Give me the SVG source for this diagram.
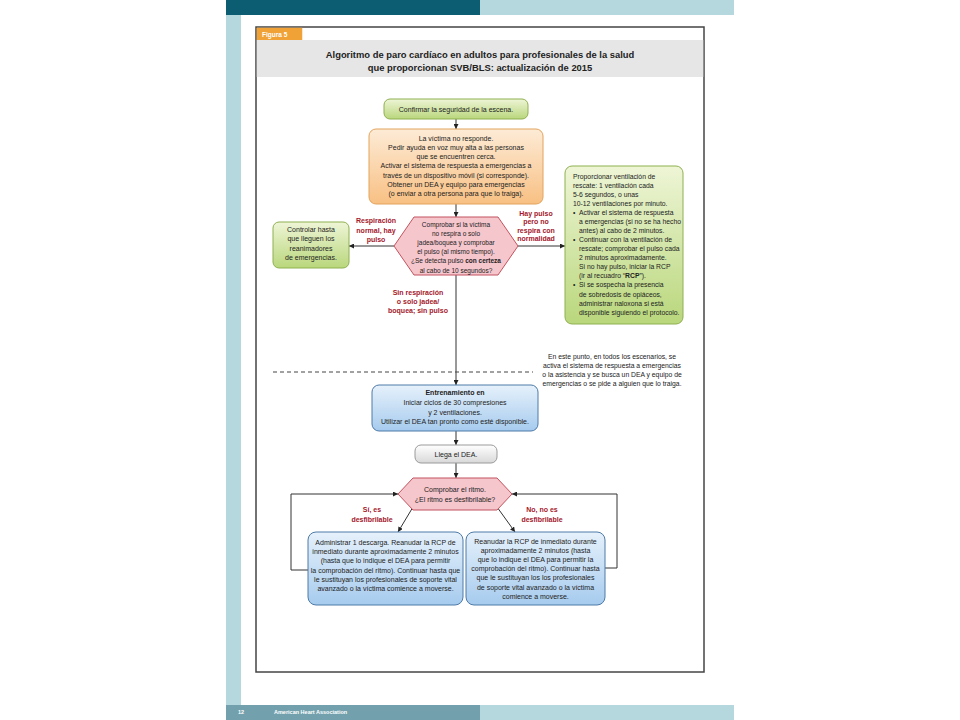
<svg xmlns="http://www.w3.org/2000/svg" width="960" height="720" viewBox="0 0 960 720">
<defs>
<linearGradient id="gGreen" x1="0" y1="0" x2="0" y2="1"><stop offset="0" stop-color="#eef5d6"/><stop offset="1" stop-color="#b9d77c"/></linearGradient>
<linearGradient id="gOrange" x1="0" y1="0" x2="0" y2="1"><stop offset="0" stop-color="#fdebd6"/><stop offset="1" stop-color="#f8c083"/></linearGradient>
<linearGradient id="gBlue" x1="0" y1="0" x2="0" y2="1"><stop offset="0" stop-color="#e6f1fb"/><stop offset="1" stop-color="#a6cbee"/></linearGradient>
<linearGradient id="gGray" x1="0" y1="0" x2="0" y2="1"><stop offset="0" stop-color="#ffffff"/><stop offset="1" stop-color="#d8d8d8"/></linearGradient>
<marker id="arr" viewBox="0 0 10 10" refX="10" refY="5" markerWidth="5" markerHeight="5" orient="auto" markerUnits="userSpaceOnUse"><path d="M0,0 L10,5 L0,10 z" fill="#222"/></marker>
</defs>
<style>
text{font-family:"Liberation Sans",Arial,sans-serif;fill:#222}
.t{font-size:7px;text-anchor:middle}
.s{font-size:6.8px}
.h{font-size:6.5px;text-anchor:middle}
.r{font-size:7px;font-weight:bold;fill:#a3182c;text-anchor:middle}
.green{fill:url(#gGreen);stroke:#8fb050;stroke-width:1}
.orange{fill:url(#gOrange);stroke:#e3a45c;stroke-width:1}
.blue{fill:url(#gBlue);stroke:#4d7aa8;stroke-width:1}
.gray{fill:url(#gGray);stroke:#9a9a9a;stroke-width:1}
.hex{fill:#f6c6cd;stroke:#c2535e;stroke-width:1}
.c{fill:none;stroke:#333;stroke-width:1}
</style>
<rect x="0" y="0" width="960" height="720" fill="#ffffff"/>
<g id="page">
<rect x="226" y="0" width="254" height="15" fill="#0d5d72"/>
<rect x="480" y="0" width="254" height="15" fill="#b4d8de"/>
<rect x="226" y="15" width="15" height="690" fill="#b4d8de"/>
<rect x="226" y="705" width="254" height="15" fill="#72a1ad"/>
<rect x="480" y="705" width="254" height="15" fill="#b4d8de"/>
<text x="238" y="714" style="font-size:5.5px;font-weight:bold;fill:#ffffff">12</text>
<text x="274" y="714" style="font-size:5.5px;font-weight:bold;fill:#ffffff">American Heart Association</text>
<rect x="256" y="27" width="448" height="645" fill="#ffffff" stroke="#444" stroke-width="1.5"/>
<rect x="256.75" y="40" width="446.5" height="37" fill="#e6e6e6"/>
<rect x="256.75" y="27.75" width="45.5" height="12.25" fill="#f0a236"/>
<text x="262" y="36.5" style="font-size:6.5px;font-weight:bold;fill:#ffffff">Figura 5</text>
<text x="480" y="57.5" style="font-size:9.4px;font-weight:bold;text-anchor:middle">Algoritmo de paro cardíaco en adultos para profesionales de la salud</text>
<text x="480" y="70.5" style="font-size:9.4px;font-weight:bold;text-anchor:middle">que proporcionan SVB/BLS: actualización de 2015</text>
</g>
<g id="connectors">
<line class="c" x1="456" y1="119" x2="456" y2="129" marker-end="url(#arr)"/>
<line class="c" x1="456" y1="204" x2="456" y2="217" marker-end="url(#arr)"/>
<line class="c" x1="394" y1="246" x2="349" y2="246" marker-end="url(#arr)"/>
<line class="c" x1="518" y1="246" x2="565" y2="246" marker-end="url(#arr)"/>
<line class="c" x1="456" y1="275" x2="456" y2="385" marker-end="url(#arr)"/>
<line x1="273" y1="372" x2="533" y2="372" stroke="#444" stroke-width="1" stroke-dasharray="4,3"/>
<line class="c" x1="456" y1="431" x2="456" y2="445" marker-end="url(#arr)"/>
<line class="c" x1="456" y1="463" x2="456" y2="478" marker-end="url(#arr)"/>
<line class="c" x1="413" y1="507" x2="398" y2="532" marker-end="url(#arr)"/>
<line class="c" x1="497" y1="507" x2="515" y2="532" marker-end="url(#arr)"/>
<polyline class="c" points="308,570 291,570 291,494 398,494" marker-end="url(#arr)"/>
<polyline class="c" points="605,568 617,568 617,494 512,494" marker-end="url(#arr)"/>
</g>
<g id="n-confirmar">
<rect class="green" x="384" y="99" width="144" height="20" rx="6"/>
<text class="t" x="456" y="111.5">Confirmar la seguridad de la escena.</text>
</g>
<g id="n-victima">
<rect class="orange" x="369" y="129" width="174" height="75" rx="7"/>
<text class="t" x="456" y="140.5">La víctima no responde.</text>
<text class="t" x="456" y="149.8">Pedir ayuda en voz muy alta a las personas</text>
<text class="t" x="456" y="159.1">que se encuentren cerca.</text>
<text class="t" x="456" y="168.4">Activar el sistema de respuesta a emergencias a</text>
<text class="t" x="456" y="177.7">través de un dispositivo móvil (si corresponde).</text>
<text class="t" x="456" y="187">Obtener un DEA y equipo para emergencias</text>
<text class="t" x="456" y="196.3">(o enviar a otra persona para que lo traiga).</text>
</g>
<g id="n-comprobar">
<polygon class="hex" points="394,246 414,217 498,217 518,246 498,275 414,275"/>
<text class="h" x="456" y="226.5">Comprobar si la víctima</text>
<text class="h" x="456" y="235.7">no respira o solo</text>
<text class="h" x="456" y="244.9">jadea/boquea y comprobar</text>
<text class="h" x="456" y="254.1">el pulso (al mismo tiempo).</text>
<text class="h" x="456" y="263.3">¿Se detecta pulso <tspan font-weight="bold">con certeza</tspan></text>
<text class="h" x="456" y="272.5">al cabo de 10 segundos?</text>
</g>
<g id="n-controlar">
<rect class="green" x="273" y="222" width="76" height="46" rx="6"/>
<text class="t" x="311" y="231.5">Controlar hasta</text>
<text class="t" x="311" y="241">que lleguen los</text>
<text class="t" x="311" y="250.5">reanimadores</text>
<text class="t" x="311" y="260">de emergencias.</text>
</g>
<g id="n-ventilacion">
<rect class="green" x="565" y="166" width="118" height="158" rx="7"/>
<text class="s" x="573" y="178.5">Proporcionar ventilación de</text>
<text class="s" x="573" y="187.6">rescate: 1 ventilación cada</text>
<text class="s" x="573" y="196.6">5-6 segundos, o unas</text>
<text class="s" x="573" y="205.7">10-12 ventilaciones por minuto.</text>
<text class="s" x="573" y="214.8">•</text>
<text class="s" x="579" y="214.8">Activar el sistema de respuesta</text>
<text class="s" x="579" y="223.9">a emergencias (si no se ha hecho</text>
<text class="s" x="579" y="232.9">antes) al cabo de 2 minutos.</text>
<text class="s" x="573" y="242">•</text>
<text class="s" x="579" y="242">Continuar con la ventilación de</text>
<text class="s" x="579" y="251.1">rescate; comprobar el pulso cada</text>
<text class="s" x="579" y="260.2">2 minutos aproximadamente.</text>
<text class="s" x="579" y="269.3">Si no hay pulso, iniciar la RCP</text>
<text class="s" x="579" y="278.3">(ir al recuadro “<tspan font-weight="bold">RCP</tspan>”).</text>
<text class="s" x="573" y="287.4">•</text>
<text class="s" x="579" y="287.4">Si se sospecha la presencia</text>
<text class="s" x="579" y="296.5">de sobredosis de opiáceos,</text>
<text class="s" x="579" y="305.6">administrar naloxona si está</text>
<text class="s" x="579" y="314.6">disponible siguiendo el protocolo.</text>
</g>
<g id="labels">
<text class="r" x="376" y="223">Respiración</text>
<text class="r" x="376" y="232.5">normal, hay</text>
<text class="r" x="376" y="242">pulso</text>
<text class="r" x="536" y="215.5">Hay pulso</text>
<text class="r" x="536" y="224">pero no</text>
<text class="r" x="536" y="232.5">respira con</text>
<text class="r" x="536" y="241">normalidad</text>
<text class="r" x="418" y="294.5">Sin respiración</text>
<text class="r" x="418" y="303.5">o solo jadea/</text>
<text class="r" x="418" y="312.5">boquea; sin pulso</text>
<text class="r" x="372" y="511.5">Sí, es</text>
<text class="r" x="372" y="521.5">desfibrilable</text>
<text class="r" x="542" y="511.5">No, no es</text>
<text class="r" x="542" y="521.5">desfibrilable</text>
</g>
<g id="note">
<text class="s" x="612" y="358.5" text-anchor="middle">En este punto, en todos los escenarios, se</text>
<text class="s" x="612" y="367.5" text-anchor="middle">activa el sistema de respuesta a emergencias</text>
<text class="s" x="612" y="376.5" text-anchor="middle">o la asistencia y se busca un DEA y equipo de</text>
<text class="s" x="612" y="385.5" text-anchor="middle">emergencias o se pide a alguien que lo traiga.</text>
</g>
<g id="n-rcp">
<rect class="blue" x="372" y="385" width="166" height="46" rx="7"/>
<text class="t" x="455" y="394.5" font-weight="bold">Entrenamiento en</text>
<text class="t" x="455" y="405">Iniciar ciclos de 30 compresiones</text>
<text class="t" x="455" y="414.5">y 2 ventilaciones.</text>
<text class="t" x="455" y="424">Utilizar el DEA tan pronto como esté disponible.</text>
</g>
<g id="n-dea">
<rect class="gray" x="415" y="445" width="82" height="18" rx="6"/>
<text class="t" x="456" y="456.5">Llega el DEA.</text>
</g>
<g id="n-ritmo">
<polygon class="hex" points="398,494 413,478 497,478 512,494 497,510 413,510"/>
<text class="t" x="455" y="492">Comprobar el ritmo.</text>
<text class="t" x="455" y="501.5">¿El ritmo es desfibrilable?</text>
</g>
<g id="n-descarga">
<rect class="blue" x="308" y="532" width="155" height="73" rx="8"/>
<text class="t" x="385.5" y="545">Administrar 1 descarga. Reanudar la RCP de</text>
<text class="t" x="385.5" y="554.2">inmediato durante aproximadamente 2 minutos</text>
<text class="t" x="385.5" y="563.4">(hasta que lo indique el DEA para permitir</text>
<text class="t" x="385.5" y="572.6">la comprobación del ritmo). Continuar hasta que</text>
<text class="t" x="385.5" y="581.8">le sustituyan los profesionales de soporte vital</text>
<text class="t" x="385.5" y="591">avanzado o la víctima comience a moverse.</text>
</g>
<g id="n-reanudar">
<rect class="blue" x="466" y="532" width="139" height="73" rx="8"/>
<text class="t" x="535.5" y="543.5">Reanudar la RCP de inmediato durante</text>
<text class="t" x="535.5" y="552.7">aproximadamente 2 minutos (hasta</text>
<text class="t" x="535.5" y="561.9">que lo indique el DEA para permitir la</text>
<text class="t" x="535.5" y="571.1">comprobación del ritmo). Continuar hasta</text>
<text class="t" x="535.5" y="580.3">que le sustituyan los los profesionales</text>
<text class="t" x="535.5" y="589.5">de soporte vital avanzado o la víctima</text>
<text class="t" x="535.5" y="598.7">comience a moverse.</text>
</g>
</svg>
